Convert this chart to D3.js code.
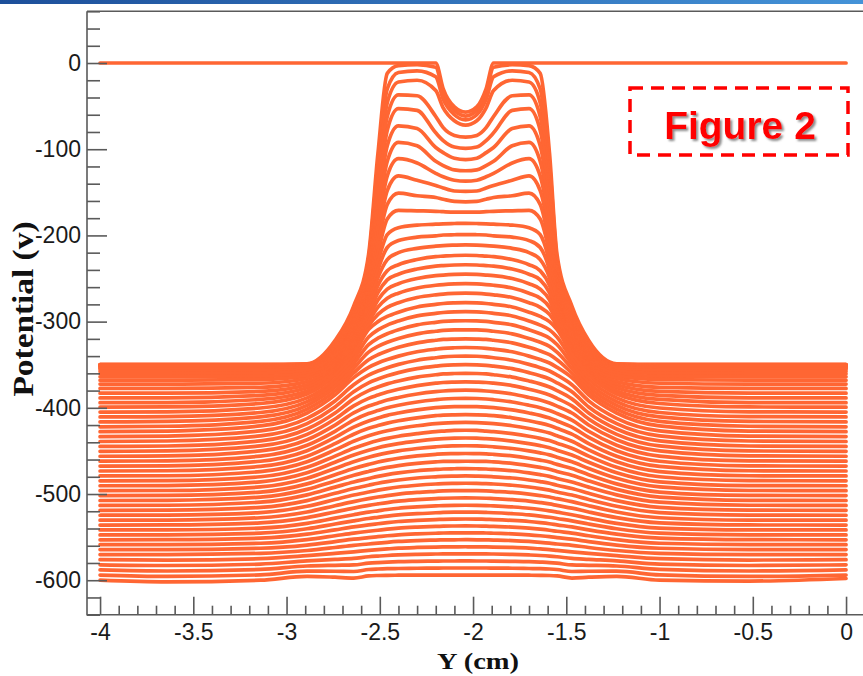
<!DOCTYPE html>
<html><head><meta charset="utf-8">
<script src="https://cdn.jsdelivr.net/npm/d3@7"></script>
<style>body{margin:0;background:#fff}svg{display:block}</style>
</head><body>
<svg id="chart" width="863" height="676"></svg>
<script>
const ySamples = [-4, -3.64, -3.14, -2.89, -2.74, -2.64, -2.56, -2.51, -2.46, -2.40, -2.30, -2.20, -2.16, -2.10, -2.04,
  -1.98, -1.93, -1.89, -1.79, -1.70, -1.64, -1.59, -1.55, -1.47, -1.38, -1.23, -1.00, -0.52, 0];

// one row per curve (potential in V at each ySamples position)
const potential = [
[0,0,0,0,0,0,0,0,0,0,0,0,-30,-51,-57, -51,-30,0,0,0,0,0,0,0,0,0,0,0,0],
[-350,-350,-350,-349,-322,-282,-222,-105,-12,-3,-2,-5,-34,-55,-61.5, -55,-34,-5,-2,-3,-12,-105,-222,-282,-322,-349,-350,-350,-350],
[-350,-350,-350,-349.5,-324,-285,-227,-117,-30,-11,-9,-16,-42,-60,-66, -60,-42,-16,-9,-11,-30,-117,-227,-285,-324,-349.5,-350,-350,-350],
[-350,-350,-350,-350,-326,-288,-232,-129,-46,-22,-20,-32,-52,-67,-72, -67,-52,-32,-20,-22,-46,-129,-232,-288,-326,-350,-350,-350,-350],
[-350.5,-350.5,-350.5,-350,-328,-291,-237,-141,-62,-37,-38,-62,-75,-84,-86, -84,-75,-62,-38,-37,-62,-141,-237,-291,-328,-350,-350.5,-350.5,-350.5],
[-351,-351,-351,-350.5,-330,-294,-242,-153,-78,-53,-55,-81,-90,-97.5,-99, -97.5,-90,-81,-55,-53,-78,-153,-242,-294,-330,-350.5,-351,-351,-351],
[-351.5,-351.5,-351.5,-351,-332,-297,-247,-165,-96,-73,-76,-98,-104,-110.5,-112, -110.5,-104,-98,-76,-73,-96,-165,-247,-297,-332,-351,-351.5,-351.5,-351.5],
[-352,-352,-352,-351.5,-334,-300,-252,-177,-114,-92,-96,-114,-119,-124,-125, -124,-119,-114,-96,-92,-114,-177,-252,-300,-334,-351.5,-352,-352,-352],
[-353,-353,-353,-352,-336,-303,-257,-189,-131,-111,-116,-128,-132,-136,-137, -136,-132,-128,-116,-111,-131,-189,-257,-303,-336,-352,-353,-353,-353],
[-354,-354,-354,-353,-338,-306,-262,-200,-148,-131,-136,-142,-145,-148.5,-149, -148.5,-145,-142,-136,-131,-148,-200,-262,-306,-338,-353,-354,-354,-354],
[-355,-355,-355,-354,-340,-309,-267,-211,-164,-151,-154,-156,-158,-160.5,-161, -160.5,-158,-156,-154,-151,-164,-211,-267,-309,-340,-354,-355,-355,-355],
[-357.5,-357.5,-357,-355.5,-342,-312,-271,-221,-181,-171,-171.5,-172,-172.5,-173,-173, -173,-172.5,-172,-171.5,-171,-181,-221,-271,-312,-342,-355.5,-357,-357.5,-357.5],
[-360.5,-360.5,-360,-357.5,-344,-315,-275,-231,-199,-191,-188,-187,-186.5,-186.2,-186, -186.2,-186.5,-187,-188,-191,-199,-231,-275,-315,-344,-357.5,-360,-360.5,-360.5],
[-364,-364,-363.5,-360,-346,-318,-279,-240,-214,-206,-202,-200.5,-199.5,-199.2,-199, -199.2,-199.5,-200.5,-202,-206,-214,-240,-279,-318,-346,-360,-363.5,-364,-364],
[-368,-368,-367.2,-363,-348,-321,-283,-249,-228,-220,-215,-212.5,-211.8,-211.3,-211, -211.3,-211.8,-212.5,-215,-220,-228,-249,-283,-321,-348,-363,-367.2,-368,-368],
[-372.5,-372.5,-371.5,-366,-350,-324,-287,-258,-241,-234,-228,-224.5,-224,-223.3,-223, -223.3,-224,-224.5,-228,-234,-241,-258,-287,-324,-350,-366,-371.5,-372.5,-372.5],
[-377.5,-377.5,-376.2,-369.6,-352.4,-326.8,-291.4,-266.4,-251.6,-245,-239,-235.6,-235,-234.3,-234, -234.3,-235,-235.6,-239,-245,-251.6,-266.4,-291.4,-326.8,-352.4,-369.6,-376.2,-377.5,-377.5],
[-383,-383,-380.9,-373.2,-354.8,-329.6,-295.8,-274.8,-262.2,-256,-250,-246.7,-246,-245.3,-245, -245.3,-246,-246.7,-250,-256,-262.2,-274.8,-295.8,-329.6,-354.8,-373.2,-380.9,-383,-383],
[-388.5,-388.5,-385.6,-376.8,-357.2,-332.4,-300.2,-283.2,-272.8,-267,-261,-257.8,-257,-256.3,-256, -256.3,-257,-257.8,-261,-267,-272.8,-283.2,-300.2,-332.4,-357.2,-376.8,-385.6,-388.5,-388.5],
[-394,-394,-390.3,-380.4,-359.6,-335.2,-304.6,-291.6,-283.4,-278,-272,-268.9,-268,-267.3,-267, -267.3,-268,-268.9,-272,-278,-283.4,-291.6,-304.6,-335.2,-359.6,-380.4,-390.3,-394,-394],
[-399.2,-399,-395,-384,-362,-338,-309,-300,-294,-289,-283,-280,-279,-278.3,-278, -278.3,-279,-280,-283,-289,-294,-300,-309,-338,-362,-384,-395,-399,-399.2],
[-404.9,-404.6,-400.2,-388.4,-366.6,-343.4,-317.8,-309.6,-304,-299.2,-293.4,-290.4,-289.4,-288.7,-288.5, -288.7,-289.4,-290.4,-293.4,-299.2,-304,-309.6,-317.8,-343.4,-366.6,-388.4,-400.2,-404.6,-404.9],
[-410.6,-410.2,-405.4,-392.8,-371.2,-348.8,-326.6,-319.2,-314,-309.4,-303.8,-300.8,-299.8,-299.1,-299, -299.1,-299.8,-300.8,-303.8,-309.4,-314,-319.2,-326.6,-348.8,-371.2,-392.8,-405.4,-410.2,-410.6],
[-416.3,-415.8,-410.6,-397.2,-375.8,-354.2,-335.4,-328.8,-324,-319.6,-314.2,-311.2,-310.2,-309.6,-309.5, -309.6,-310.2,-311.2,-314.2,-319.6,-324,-328.8,-335.4,-354.2,-375.8,-397.2,-410.6,-415.8,-416.3],
[-422,-421.4,-415.8,-401.6,-380.4,-359.6,-344.2,-338.4,-334,-329.8,-324.6,-321.6,-320.6,-320.2,-320, -320.2,-320.6,-321.6,-324.6,-329.8,-334,-338.4,-344.2,-359.6,-380.4,-401.6,-415.8,-421.4,-422],
[-427.7,-427,-421,-406,-385,-365,-353,-348,-344,-340,-335,-332,-331,-330.3,-330, -330.3,-331,-332,-335,-340,-344,-348,-353,-365,-385,-406,-421,-427,-427.7],
[-433.4,-432.8,-426.8,-412.2,-392,-373.2,-362,-357.3,-353.4,-349.6,-344.8,-341.9,-340.9,-340.2,-340, -340.2,-340.9,-341.9,-344.8,-349.6,-353.4,-357.3,-362,-373.2,-392,-412.2,-426.8,-432.8,-433.4],
[-439.1,-438.5,-432.6,-418.4,-399,-381.4,-371,-366.6,-362.8,-359.2,-354.6,-351.7,-350.8,-350.2,-350, -350.2,-350.8,-351.7,-354.6,-359.2,-362.8,-366.6,-371,-381.4,-399,-418.4,-432.6,-438.5,-439.1],
[-444.8,-444.3,-438.4,-424.6,-406,-389.6,-380,-375.9,-372.2,-368.8,-364.4,-361.6,-360.7,-360.2,-360, -360.2,-360.7,-361.6,-364.4,-368.8,-372.2,-375.9,-380,-389.6,-406,-424.6,-438.4,-444.3,-444.8],
[-450.5,-450,-444.2,-430.8,-413,-397.8,-389,-385.2,-381.6,-378.4,-374.2,-371.4,-370.6,-370.2,-370, -370.2,-370.6,-371.4,-374.2,-378.4,-381.6,-385.2,-389,-397.8,-413,-430.8,-444.2,-450,-450.5],
[-456.2,-455.8,-450,-437,-420,-406,-398,-394.5,-391,-388,-384,-381.3,-380.5,-379.8,-379.5, -379.8,-380.5,-381.3,-384,-388,-391,-394.5,-398,-406,-420,-437,-450,-455.8,-456.2],
[-461.9,-461.5,-456,-443.4,-427.2,-414.2,-406.6,-403.2,-399.9,-397,-393.2,-390.6,-389.8,-389.2,-389, -389.2,-389.8,-390.6,-393.2,-397,-399.9,-403.2,-406.6,-414.2,-427.2,-443.4,-456,-461.5,-461.9],
[-467.6,-467.3,-462,-449.8,-434.4,-422.4,-415.2,-411.9,-408.8,-406,-402.4,-399.8,-399.1,-398.6,-398.5, -398.6,-399.1,-399.8,-402.4,-406,-408.8,-411.9,-415.2,-422.4,-434.4,-449.8,-462,-467.3,-467.6],
[-473.3,-473,-468,-456.2,-441.6,-430.6,-423.8,-420.6,-417.7,-415,-411.6,-409.1,-408.4,-408.1,-408, -408.1,-408.4,-409.1,-411.6,-415,-417.7,-420.6,-423.8,-430.6,-441.6,-456.2,-468,-473,-473.3],
[-479,-478.8,-474,-462.6,-448.8,-438.8,-432.4,-429.3,-426.6,-424,-420.8,-418.3,-417.7,-417.2,-417, -417.2,-417.7,-418.3,-420.8,-424,-426.6,-429.3,-432.4,-438.8,-448.8,-462.6,-474,-478.8,-479],
[-484.7,-484.5,-480,-469,-456,-447,-441,-438,-435.5,-433,-430,-427.6,-427,-426.2,-426, -426.2,-427,-427.6,-430,-433,-435.5,-438,-441,-447,-456,-469,-480,-484.5,-484.7],
[-490.4,-490.2,-485.9,-475.4,-463.2,-454.8,-449.2,-446.3,-443.9,-441.5,-438.6,-436.4,-435.8,-435.2,-435, -435.2,-435.8,-436.4,-438.6,-441.5,-443.9,-446.3,-449.2,-454.8,-463.2,-475.4,-485.9,-490.2,-490.4],
[-496.1,-495.9,-491.8,-481.8,-470.4,-462.6,-457.4,-454.6,-452.3,-450,-447.2,-445.2,-444.6,-444.2,-444, -444.2,-444.6,-445.2,-447.2,-450,-452.3,-454.6,-457.4,-462.6,-470.4,-481.8,-491.8,-495.9,-496.1],
[-501.8,-501.6,-497.7,-488.2,-477.6,-470.4,-465.6,-462.9,-460.7,-458.5,-455.8,-453.9,-453.4,-453.2,-453, -453.2,-453.4,-453.9,-455.8,-458.5,-460.7,-462.9,-465.6,-470.4,-477.6,-488.2,-497.7,-501.6,-501.8],
[-507.5,-507.3,-503.6,-494.6,-484.8,-478.2,-473.8,-471.2,-469.1,-467,-464.4,-462.7,-462.2,-462.1,-462, -462.1,-462.2,-462.7,-464.4,-467,-469.1,-471.2,-473.8,-478.2,-484.8,-494.6,-503.6,-507.3,-507.5],
[-513.2,-513,-509.5,-501,-492,-486,-482,-479.5,-477.5,-475.5,-473,-471.5,-471,-470.7,-470.5, -470.7,-471,-471.5,-473,-475.5,-477.5,-479.5,-482,-486,-492,-501,-509.5,-513,-513.2],
[-518.9,-518.7,-515.5,-507.6,-499.2,-493.6,-489.8,-487.5,-485.6,-483.7,-481.4,-480,-479.5,-479.2,-479, -479.2,-479.5,-480,-481.4,-483.7,-485.6,-487.5,-489.8,-493.6,-499.2,-507.6,-515.5,-518.7,-518.9],
[-524.6,-524.4,-521.5,-514.2,-506.4,-501.2,-497.6,-495.5,-493.7,-491.9,-489.8,-488.4,-488,-487.7,-487.5, -487.7,-488,-488.4,-489.8,-491.9,-493.7,-495.5,-497.6,-501.2,-506.4,-514.2,-521.5,-524.4,-524.6],
[-530.3,-530.2,-527.5,-520.8,-513.6,-508.8,-505.4,-503.5,-501.8,-500.1,-498.2,-496.9,-496.4,-496.1,-496, -496.1,-496.4,-496.9,-498.2,-500.1,-501.8,-503.5,-505.4,-508.8,-513.6,-520.8,-527.5,-530.2,-530.3],
[-536,-535.9,-533.5,-527.4,-520.8,-516.4,-513.2,-511.5,-509.9,-508.3,-506.6,-505.3,-504.9,-504.6,-504.5, -504.6,-504.9,-505.3,-506.6,-508.3,-509.9,-511.5,-513.2,-516.4,-520.8,-527.4,-533.5,-535.9,-536],
[-541.7,-541.6,-539.5,-534,-528,-524,-521,-519.5,-518,-516.5,-515,-513.8,-513.4,-513.1,-513, -513.1,-513.4,-513.8,-515,-516.5,-518,-519.5,-521,-524,-528,-534,-539.5,-541.6,-541.7],
[-547.4,-547.3,-545.4,-540.3,-534.8,-531.1,-528.4,-527,-525.6,-524.2,-522.8,-521.7,-521.4,-521.1,-521, -521.1,-521.4,-521.7,-522.8,-524.2,-525.6,-527,-528.4,-531.1,-534.8,-540.3,-545.4,-547.3,-547.4],
[-553.1,-553,-551.2,-546.6,-541.6,-538.2,-535.8,-534.5,-533.2,-531.9,-530.6,-529.6,-529.3,-529.1,-529, -529.1,-529.3,-529.6,-530.6,-531.9,-533.2,-534.5,-535.8,-538.2,-541.6,-546.6,-551.2,-553,-553.1],
[-558.8,-558.8,-557.1,-552.9,-548.4,-545.3,-543.2,-542,-540.8,-539.6,-538.4,-537.6,-537.3,-537.1,-537, -537.1,-537.3,-537.6,-538.4,-539.6,-540.8,-542,-543.2,-545.3,-548.4,-552.9,-557.1,-558.8,-558.8],
[-564.5,-564.5,-562.9,-559.2,-555.2,-552.4,-550.6,-549.5,-548.4,-547.3,-546.2,-545.5,-545.2,-545.1,-545, -545.1,-545.2,-545.5,-546.2,-547.3,-548.4,-549.5,-550.6,-552.4,-555.2,-559.2,-562.9,-564.5,-564.5],
[-570.2,-570.2,-568.8,-565.5,-562,-559.5,-558,-557,-556,-555,-554,-553.4,-553.2,-553.1,-553, -553.1,-553.2,-553.4,-554,-555,-556,-557,-558,-559.5,-562,-565.5,-568.8,-570.2,-570.2],
[-576.2,-576.6,-575,-571.5,-568.9,-567.1,-565.4,-564.5,-563.7,-562.8,-562,-561.5,-561.4,-561.3,-561.2, -561.3,-561.4,-561.5,-562,-562.8,-563.7,-564.5,-565.4,-567.1,-568.9,-571.5,-575,-576.6,-576.2],
[-582.1,-582.9,-581.3,-577.5,-575.8,-574.7,-572.8,-572,-571.3,-570.7,-570,-569.6,-569.5,-569.5,-569.4, -569.5,-569.5,-569.6,-570,-570.7,-571.3,-572,-572.8,-574.7,-575.8,-577.5,-581.3,-582.9,-582.1],
[-588.1,-589.3,-587.5,-583.5,-582.7,-582.3,-580.2,-579.5,-579,-578.5,-578.1,-577.8,-577.7,-577.7,-577.6, -577.7,-577.7,-577.8,-578.1,-578.5,-579,-579.5,-580.2,-582.3,-582.7,-583.5,-587.5,-589.3,-588.1],
[-594,-595.6,-593.8,-589.5,-589.6,-589.9,-587.6,-587,-586.6,-586.4,-586.1,-585.9,-585.8,-585.8,-585.8, -585.8,-585.8,-585.9,-586.1,-586.4,-586.6,-587,-587.6,-589.9,-589.6,-589.5,-593.8,-595.6,-594],
[-600,-602,-600,-595.5,-596.5,-597.5,-595,-594.5,-594.3,-594.2,-594.1,-594,-594,-594,-594, -594,-594,-594,-594.1,-594.2,-594.3,-594.5,-595,-597.5,-596.5,-595.5,-600,-601,-598]
];

const xTickValues = [-4, -3.5, -3, -2.5, -2, -1.5, -1, -0.5, 0];
const xTickLabels = ["-4", "-3.5", "-3", "-2.5", "-2", "-1.5", "-1", "-0.5", "0"];
const yTickValues = [0, -100, -200, -300, -400, -500, -600];
const yTickLabels = ["0", "-100", "-200", "-300", "-400", "-500", "-600"];
const xTitle = "Y (cm)";
const yTitle = "Potential (v)";
const badgeText = "Figure 2";

const svg = d3.select("#chart");
const defs = svg.append("defs");
const grad = defs.append("linearGradient").attr("id", "topbar").attr("x1", "0%").attr("x2", "100%");
grad.append("stop").attr("offset", "0%").attr("stop-color", "#1d4f9a");
grad.append("stop").attr("offset", "100%").attr("stop-color", "#4493d8");
const filt = defs.append("filter").attr("id", "shadow").attr("x", "-10%").attr("y", "-20%").attr("width", "130%").attr("height", "150%");
filt.append("feDropShadow").attr("dx", 2).attr("dy", 2).attr("stdDeviation", 1.3)
  .attr("flood-color", "#666").attr("flood-opacity", 0.75);

svg.append("rect").attr("x", 0).attr("y", 0).attr("width", 863).attr("height", 4).attr("fill", "url(#topbar)");

const x = d3.scaleLinear().domain([-4.07, 0.1]).range([87, 864.7]);
const y = d3.scaleLinear().domain([60, -640]).range([11.3, 614.7]);

// curves
const line = d3.line().x((d, i) => x(ySamples[i])).y(d => y(d)).curve(d3.curveMonotoneX);
svg.append("g").selectAll("path").data(potential).join("path")
  .attr("d", line).attr("fill", "none").attr("stroke", "#ff6633")
  .attr("stroke-width", 3.7).attr("stroke-linejoin", "round").attr("stroke-linecap", "round");

// frame
const axisColor = "#5a5a5a";
svg.append("path").attr("d", `M${x.range()[0]},${y.range()[0]}H863M${x.range()[0]},${y.range()[0]}V${y.range()[1]}H863`)
  .attr("fill", "none").attr("stroke", axisColor).attr("stroke-width", 1.6);

const minorY = d3.range(-640, 61, 20).filter(v => v % 100 !== 0);
const minorX = d3.range(-40, 1, 1).filter(v => v % 5 !== 0).map(v => v / 10);

function styleAxis(g) {
  g.select(".domain").remove();
  g.selectAll(".tick line").attr("stroke", axisColor).attr("stroke-width", 1.6);
  g.selectAll(".tick text").attr("fill", "#1a1a1a")
    .style("font-family", "'Liberation Sans', Arial, sans-serif").style("font-size", "23px");
}

svg.append("g").attr("transform", `translate(${x.range()[0]},0)`)
  .call(d3.axisLeft(y).tickValues(minorY).tickSize(-13).tickFormat("")).call(styleAxis);
svg.append("g").attr("transform", `translate(${x.range()[0]},0)`)
  .call(d3.axisLeft(y).tickValues(yTickValues).tickFormat((d, i) => yTickLabels[i]).tickSize(-20).tickPadding(6))
  .call(styleAxis);
svg.append("g").attr("transform", `translate(0,${y.range()[1]})`)
  .call(d3.axisBottom(x).tickValues(minorX).tickSize(-9).tickFormat("")).call(styleAxis);
svg.append("g").attr("transform", `translate(0,${y.range()[1]})`)
  .call(d3.axisBottom(x).tickValues(xTickValues).tickFormat((d, i) => xTickLabels[i]).tickSize(-18).tickPadding(9))
  .call(styleAxis);

// axis titles
svg.append("text").attr("x", 478).attr("y", 669).attr("text-anchor", "middle")
  .style("font-family", "'Liberation Serif', 'Times New Roman', serif").style("font-weight", "bold").style("font-size", "24px")
  .attr("textLength", 82).attr("lengthAdjust", "spacingAndGlyphs").attr("fill", "#111").text(xTitle);
svg.append("text").attr("transform", "translate(33,309) rotate(-90)").attr("text-anchor", "middle")
  .style("font-family", "'Liberation Serif', 'Times New Roman', serif").style("font-weight", "bold").style("font-size", "30px")
  .attr("textLength", 175).attr("lengthAdjust", "spacingAndGlyphs").attr("fill", "#111").text(yTitle);

// badge
svg.append("rect").attr("x", 630).attr("y", 88).attr("width", 218).attr("height", 67)
  .attr("fill", "none").attr("stroke", "#ff0000").attr("stroke-width", 3.5).attr("stroke-dasharray", "13,8");
svg.append("text").attr("x", 740).attr("y", 139).attr("text-anchor", "middle")
  .style("font-family", "'Liberation Sans', Arial, sans-serif").style("font-weight", "bold").style("font-size", "39px")
  .attr("fill", "#ff0000").attr("filter", "url(#shadow)").text(badgeText);
</script>
</body></html>
